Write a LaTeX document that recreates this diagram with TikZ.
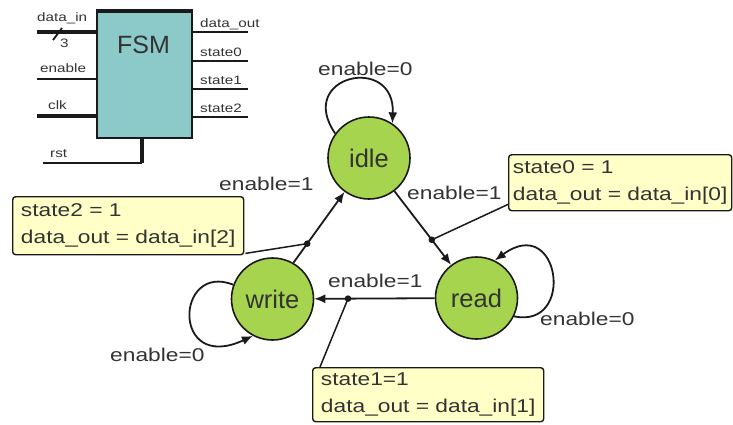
\documentclass[tikz,border=0pt]{standalone}
\usepackage{fontspec}
\setmainfont{Liberation Sans}
\newfontfamily\widefont[FakeStretch=1.23]{Liberation Sans}
\newfontfamily\pinfont[FakeStretch=1.25]{Liberation Sans}
\usetikzlibrary{arrows.meta}
\definecolor{txt}{HTML}{333333}
\definecolor{ink}{HTML}{1A1A1A}
\definecolor{fsmfill}{HTML}{8CC9C9}
\definecolor{stategreen}{HTML}{A6D44E}
\definecolor{notefill}{HTML}{FFFFC8}
\begin{document}
\begin{tikzpicture}[x=1pt,y=-1pt,
  state/.style={circle, draw=ink, line width=1.6pt, fill=stategreen,
    minimum size=82pt, inner sep=0pt, text=txt,
    font=\fontsize{25.5}{28}\selectfont},
  note/.style={draw=ink, line width=1.4pt, fill=notefill, rounded corners=3pt,
    align=left, anchor=north west, inner sep=0pt, text=txt,
    font=\widefont\fontsize{18.5}{26.5}\selectfont},
  lbl/.style={anchor=base west, inner sep=0pt, text=txt,
    font=\widefont\fontsize{18.5}{22}\selectfont},
  pin/.style={anchor=base west, inner sep=0pt, text=txt,
    font=\pinfont\fontsize{12.2}{14}\selectfont},
  trans/.style={line width=1.8pt, draw=ink, -{Latex[length=11pt,width=9pt]}},
  link/.style={line width=1.5pt, draw=ink},
  bus/.style={line width=3.2pt, draw=ink},
  wire/.style={line width=1.3pt, draw=ink},
  outwire/.style={line width=2.2pt, draw=ink},
]
\useasboundingbox (0,0) rectangle (733,424);

% ---------- FSM block symbol ----------
\node[draw=ink, line width=1.6pt, fill=fsmfill, minimum width=95pt,
      minimum height=126pt, anchor=north west, inner sep=0pt] (fsm) at (96,11) {};
\draw[line width=3.2pt, ink] (fsm.north west) -- (fsm.north east);
\node[anchor=base, inner sep=0pt, text=txt, font=\fontsize{25}{28}\selectfont]
      (fsmname) at (143.5,53) {FSM};

% inputs
\coordinate (dinL) at (37,32);
\coordinate (enL) at (37,79);
\coordinate (clkL) at (37,116);
\draw[bus] (dinL) -- (dinL -| fsm.west);
\draw[wire] (enL) -- (enL -| fsm.west);
\draw[bus] (clkL) -- (clkL -| fsm.west);
\draw[line width=1.8pt, ink] (53,40) -- (62,28);
\node[pin] (width) at (60,47.5) {3};
\node[pin] (dinlbl) at (37,21) {data\_in};
\node[pin] (enlbl) at (40,72.5) {enable};
\node[pin] (clklbl) at (48,109) {clk};

% reset comes in from below
\coordinate (rstB) at (142,163);
\coordinate (rstL) at (43,163);
\draw[bus] (rstB |- fsm.south) -- (rstB);
\draw[wire] (rstB) -- (rstL);
\node[pin] (rstlbl) at (50,157) {rst};

% outputs
\coordinate (doR) at (248,32);
\coordinate (s0R) at (248,61);
\coordinate (s1R) at (248,89);
\coordinate (s2R) at (248,117);
\draw[outwire] (doR -| fsm.east) -- (doR);
\draw[outwire] (s0R -| fsm.east) -- (s0R);
\draw[outwire] (s1R -| fsm.east) -- (s1R);
\draw[outwire] (s2R -| fsm.east) -- (s2R);
\node[pin] (dolbl) at (200,27.5) {data\_out};
\node[pin] (s0lbl) at (200,56) {state0};
\node[pin] (s1lbl) at (200,84) {state1};
\node[pin] (s2lbl) at (200,112) {state2};

% ---------- state diagram ----------
\node[state] (idle) at (369,158) {idle};
\node[state] (read) at (476.5,298) {read};
\node[state] (write) at (272.5,299) {write};

% transitions
\draw[trans] (write.60) -- coordinate[pos=0.27] (d2) (idle);
\draw[trans] (idle) -- coordinate[pos=0.66] (d0) (read);
\draw[trans] (read) -- coordinate[pos=0.72] (d1) (write);

% self loops
\draw[trans] (idle.144) .. controls +(-40,-58) and +(3,-70) .. (idle.56);
\draw[trans] (read.-26) .. controls +(62,13) and +(65,-48) .. (read.64);
\draw[trans] (write.160) .. controls +(-58,-23) and +(-82,38) .. (write.242);

% transition labels
\node[lbl] (l1) at (318,75) {enable=0};
\node[lbl] (l2) at (219,190) {enable=1};
\node[lbl] (l3) at (407,199) {enable=1};
\node[lbl] (l4) at (328,287) {enable=1};
\node[lbl] (l5) at (540,325) {enable=0};
\node[lbl] (l6) at (110,361) {enable=0};

% output notes
\node[note, minimum width=223pt, minimum height=56pt] (n0) at (508,154)
  {state0 = 1\\data\_out = data\_in[0]};
\node[note, minimum width=231pt, minimum height=58pt] (n2) at (12,196)
  {state2 = 1\\data\_out = data\_in[2]};
\node[note, minimum width=231pt, minimum height=54pt] (n1) at (312,367)
  {state1=1\\data\_out = data\_in[1]};

\draw[link] ([yshift=7pt]n0.south west) -- (d0);
\draw[link] ([xshift=1pt,yshift=2pt]n2.south east) -- (d2);
\draw[link] ([xshift=8pt]n1.north west) -- (d1);

\fill[ink] (d0) circle (3.3);
\fill[ink] (d1) circle (3.3);
\fill[ink] (d2) circle (3.3);
\end{tikzpicture}
\end{document}
